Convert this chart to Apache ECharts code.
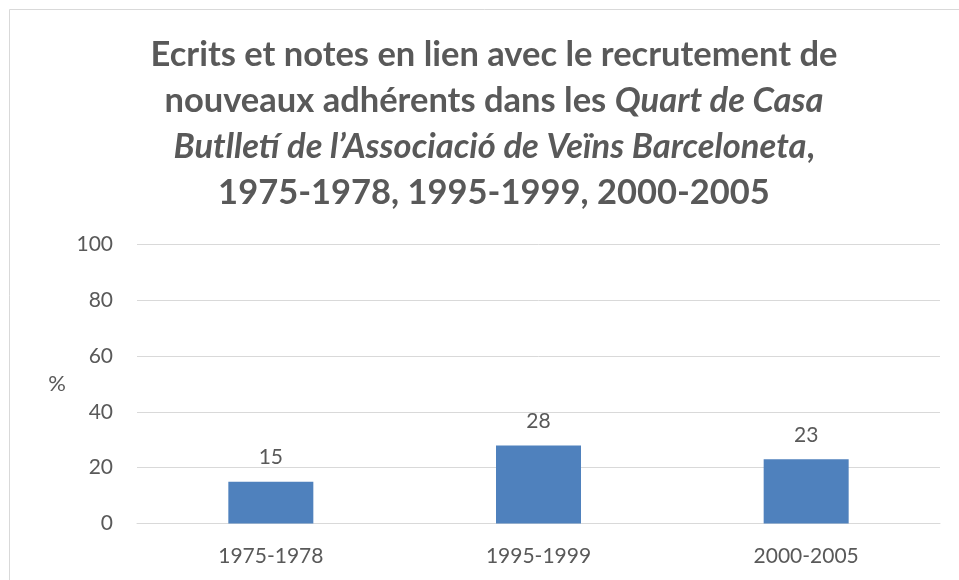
<!DOCTYPE html>
<html>
<head>
<meta charset="utf-8">
<script src="https://cdn.jsdelivr.net/npm/echarts@6/dist/echarts.min.js"></script>
<style>
  html, body { margin: 0; padding: 0; background: #fff; }
  #chart { width: 959px; height: 580px; }
</style>
</head>
<body>
<div id="chart"></div>
<script>
// periods and shares (%)
const periods = ['1975-1978', '1995-1999', '2000-2005'];
const shares = [15, 28, 23];
const yTicks = [0, 20, 40, 60, 80, 100];

const titleLines = [
  'Ecrits et notes en lien avec le recrutement de',
  'nouveaux adhérents dans les {i|Quart de Casa}',
  '{i|Butlletí de l’Associació de Veïns Barceloneta},',
  '1975-1978, 1995-1999, 2000-2005'
];

const font = 'Lato, "Open Sans", sans-serif';
const textColor = '#595959';

const chart = echarts.init(document.getElementById('chart'));
chart.setOption({
  animation: false,
  backgroundColor: '#fff',
  graphic: [
    {
      type: 'rect',
      shape: { x: 9.5, y: 9.5, width: 1200, height: 1000 },
      style: { fill: 'none', stroke: '#d9d9d9', lineWidth: 1 },
      silent: true
    },
    {
      type: 'text',
      x: 494,
      y: 32,
      style: {
        text: titleLines.join('\n'),
        align: 'center',
        verticalAlign: 'top',
        fill: textColor,
        font: 'bold 34.5px ' + font,
        lineHeight: 46,
        rich: {
          i: { fontStyle: 'italic', fontWeight: 'bold', fontSize: 34.5, fontFamily: font, fill: textColor, lineHeight: 46 }
        }
      }
    }
  ],
  grid: {
    left: 137,
    right: 19,
    top: 244.5,
    height: 279,
    containLabel: false
  },
  xAxis: {
    type: 'category',
    data: periods,
    axisTick: { show: false },
    axisLine: { lineStyle: { color: '#d9d9d9', width: 1 } },
    axisLabel: { color: textColor, fontSize: 21, fontFamily: font, margin: 22 }
  },
  yAxis: {
    type: 'value',
    min: yTicks[0],
    max: yTicks[yTicks.length - 1],
    interval: yTicks[1] - yTicks[0],
    name: '%',
    nameLocation: 'middle',
    nameRotate: 0,
    nameGap: 71,
    nameTextStyle: { color: textColor, fontSize: 22, fontFamily: font, padding: [12, 0, 0, 0] },
    axisLine: { show: false },
    axisTick: { show: false },
    axisLabel: { color: textColor, fontSize: 21, fontFamily: font, margin: 24 },
    splitLine: { lineStyle: { color: '#d9d9d9', width: 1 } }
  },
  series: [{
    type: 'bar',
    data: shares,
    barWidth: 85,
    itemStyle: { color: '#4f81bd' },
    label: {
      show: true,
      position: 'top',
      distance: 14,
      color: textColor,
      fontSize: 21,
      fontFamily: font
    }
  }]
});
</script>
</body>
</html>
